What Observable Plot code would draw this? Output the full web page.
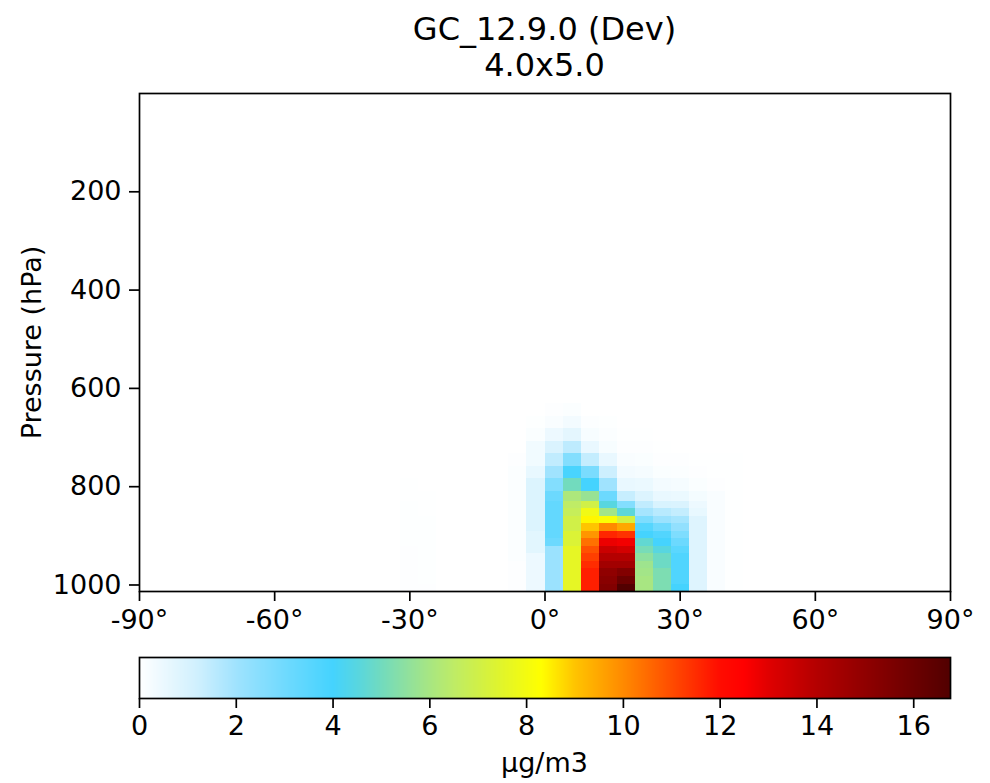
<!DOCTYPE html>
<html>
<head>
<meta charset="utf-8">
<script src="https://cdn.jsdelivr.net/npm/d3@7"></script>
<script src="https://cdn.jsdelivr.net/npm/@observablehq/plot@0.6"></script>
<style>
  html, body { margin: 0; padding: 0; background: white; }
  #wrap { position: relative; width: 990px; height: 783px; background: white; font-family: "DejaVu Sans", sans-serif; color: black; overflow: hidden; }
  #title { position: absolute; z-index: 5; left: 139px; width: 811px; top: 11px; text-align: center; font-size: 32px; line-height: 36px; }
  #main { position: absolute; left: 0; top: 0; z-index: 1; }
  #cbar { position: absolute; left: 0; top: 647px; z-index: 2; }
  #cblabel { position: absolute; z-index: 5; left: 139px; width: 811px; top: 746px; text-align: center; font-size: 27px; line-height: 34px; }
</style>
</head>
<body>
<div id="wrap">
  <div id="main"></div>
  <div id="cbar"></div>
  <div id="title">GC_12.9.0 (Dev)<br>4.0x5.0</div>
  <div id="cblabel">μg/m3</div>
</div>
<script>
// ---- axis / grid definitions ----
const xTicks = [-90, -60, -30, 0, 30, 60, 90];
const yTicks = [200, 400, 600, 800, 1000];
const cbTicks = [0, 2, 4, 6, 8, 10, 12, 14, 16];
const vmax = 16.76;
const pTop = 0.01;
// GEOS-Chem 72-level pressure edges (hPa), lowest 21 edges (levels L1..L20)
const pressureEdges = [1013.25, 998.05, 982.76, 967.47, 952.19, 936.90, 921.62, 906.34, 891.05, 875.77,
  860.50, 845.22, 829.93, 809.55, 784.07, 758.59, 733.12, 707.64, 682.17, 656.70, 631.22];
const bandWidth = 4; // 4x5 grid latitude spacing

// ---- colormap (WhGrYlRd) stops ----
const cmapValues = [0, 1.2, 2, 3, 4, 4.5, 5, 5.5, 6, 6.5, 7, 7.5, 8.3, 9, 10, 11, 12, 12.5, 13, 14, 15, 16, 16.76];
const cmapColors = ["#ffffff", "#d0f0fe", "#a0e3fe", "#70dafe", "#45d3fe", "#58d6e0", "#72dbbe", "#8ee0a0",
  "#a8e682", "#bfec66", "#d0f048", "#e2f52a", "#ffff00", "#ffc400", "#ff8a00", "#ff4c00", "#ff0c00", "#ff0000",
  "#e00000", "#b40000", "#900000", "#6c0000", "#520000"];

// ---- zonal-mean values (µg/m3), per latitude band, levels L1 (surface) .. L20 ----
const bandStart = [-32, -28, -8, -4, 0, 4, 8, 12, 16, 20, 24, 28, 32, 36, 40];
const b_m32 = [0.06,0.05,0.05,0.05,0.05,0.05,0.04,0.04,0.04,0.04,0.04,0.04,0.03,0.03,0,0,0,0,0,0];
const b_m28 = [0.05,0.04,0.04,0.04,0.04,0.04,0.04,0.04,0.04,0.04,0.03,0.03,0.03,0,0,0,0,0,0,0];
const b_m8  = [0.05,0.05,0.05,0.05,0.1,0.1,0.1,0.1,0.1,0.1,0.1,0.1,0.1,0.1,0.1,0.05,0,0,0,0];
const b_m4  = [0.45,0.45,0.45,0.45,0.45,0.75,0.75,0.75,0.9,0.9,0.9,0.9,0.9,0.9,0.6,0.35,0.35,0.12,0.04,0];
const b_0   = [2.1,2.1,2.1,2.1,2.1,2.1,3.1,3.3,3.3,3.3,3.3,3.3,3.1,2.6,2.0,1.45,0.95,0.45,0.15,0.05];
const b_4   = [7.6,7.6,7.6,7.6,7.6,7.6,7.3,7.3,7.0,7.0,6.7,6.5,6.1,5.0,3.9,2.6,1.5,0.7,0.3,0.1];
const b_8   = [11.7,11.7,11.7,11.5,11.2,10.9,10.4,9.8,9.0,8.4,7.9,7.0,5.7,4.0,2.8,1.4,0.55,0.2,0.08,0];
const b_12  = [15.4,15.2,15.0,14.5,14.0,13.5,12.8,11.6,10.0,8.2,5.9,4.5,3.1,2.0,1.25,0.55,0.2,0.1,0.04,0];
const b_16  = [16.76,16.0,15.4,14.5,14.0,13.3,12.7,11.4,9.5,7.1,4.6,2.6,1.35,0.55,0.3,0.15,0.06,0.03,0,0];
const b_20  = [6.0,6.0,5.9,5.8,5.5,5.1,4.7,4.0,3.6,2.7,1.9,1.45,0.9,0.5,0.25,0.12,0.06,0.03,0,0];
const b_24  = [5.2,5.2,5.2,4.9,4.9,4.5,4.0,3.7,3.0,2.1,1.6,1.0,0.55,0.3,0.12,0.05,0.03,0,0,0];
const b_28  = [4.0,3.75,3.75,3.75,3.75,3.5,3.1,2.7,2.3,1.9,1.4,0.95,0.5,0.25,0.1,0.05,0,0,0,0];
const b_32  = [0.85,0.85,0.85,0.85,0.85,0.85,0.85,0.85,0.85,0.85,0.6,0.45,0.28,0.12,0.06,0.03,0,0,0,0];
const b_36  = [0.15,0.15,0.15,0.15,0.15,0.15,0.15,0.15,0.15,0.15,0.15,0.15,0.15,0.05,0.03,0.03,0,0,0,0];
const b_40  = [0.03,0.03,0.03,0.03,0.03,0.03,0.03,0.03,0.03,0.03,0.03,0.03,0.03,0.03,0.03,0.03,0,0,0,0];
const bandValues = [b_m32, b_m28, b_m8, b_m4, b_0, b_4, b_8, b_12, b_16, b_20, b_24, b_28, b_32, b_36, b_40];

// ---- build cell table ----
const cells = [];
bandStart.forEach((lat, i) => {
  bandValues[i].forEach((v, k) => {
    if (v > 0) cells.push({lat1: lat, lat2: lat + bandWidth, p1: pressureEdges[k], p2: pressureEdges[k + 1], v});
  });
});

const cmap = d3.scaleLinear().domain(cmapValues).range(cmapColors).interpolate(d3.interpolateRgb).clamp(true);
const colorScale = {type: "linear", domain: [0, vmax], interpolate: t => cmap(t * vmax)};
const sw = 1.7;
const fs = 27;

const main = Plot.plot({
  width: 990, height: 640,
  marginTop: 93, marginBottom: 49, marginLeft: 139, marginRight: 40,
  x: {domain: [-90, 90]},
  y: {domain: [pressureEdges[0], pTop]},
  color: colorScale,
  style: {fontFamily: "DejaVu Sans", fontSize: fs + "px", color: "black", background: "transparent", overflow: "visible"},
  marks: [
    Plot.rect(cells, {x1: "lat1", x2: "lat2", y1: "p1", y2: "p2", fill: "v", shapeRendering: "crispEdges"}),
    Plot.frame({stroke: "black", strokeWidth: sw}),
    Plot.axisX({ticks: xTicks, tickFormat: d => d + "°", tickSize: 10, tickPadding: 8, strokeWidth: sw, label: null}),
    Plot.axisY({ticks: yTicks, tickFormat: d => String(d), tickSize: 10, tickPadding: 8, strokeWidth: sw, label: null}),
    Plot.text(["Pressure (hPa)"], {frameAnchor: "left", dx: -107, rotate: -90, textAnchor: "middle", fontSize: fs})
  ]
});
document.getElementById("main").appendChild(main);

// ---- colorbar ----
let barMark;
if (typeof Plot.raster === "function") {
  barMark = Plot.raster({x1: 0, x2: vmax, y1: 0, y2: 1, width: 811, height: 1, fill: (x, y) => x, imageRendering: "auto"});
} else {
  const strips = d3.range(0, 811).map(i => ({a: i * vmax / 811, b: (i + 1) * vmax / 811}));
  barMark = Plot.rect(strips, {x1: "a", x2: "b", y1: 0, y2: 1, fill: d => (d.a + d.b) / 2, shapeRendering: "crispEdges"});
}
const cbar = Plot.plot({
  width: 990, height: 96,
  marginTop: 10, marginBottom: 45, marginLeft: 139, marginRight: 40,
  x: {domain: [0, vmax]},
  y: {domain: [0, 1], axis: null},
  color: colorScale,
  style: {fontFamily: "DejaVu Sans", fontSize: fs + "px", color: "black", background: "transparent", overflow: "visible"},
  marks: [
    barMark,
    Plot.frame({stroke: "black", strokeWidth: sw}),
    Plot.axisX({ticks: cbTicks, tickFormat: d => String(d), tickSize: 10, tickPadding: 7, strokeWidth: sw, label: null})
  ]
});
document.getElementById("cbar").appendChild(cbar);
</script>
</body>
</html>
